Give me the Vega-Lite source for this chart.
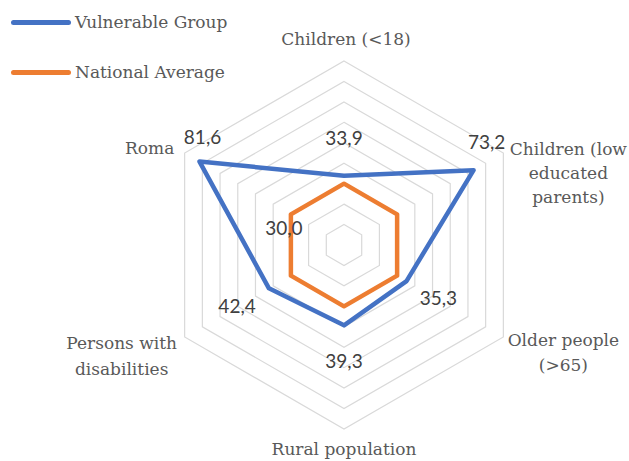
{
  "$schema": "https://vega.github.io/schema/vega-lite/v6.json",
  "width": 629,
  "height": 461,
  "autosize": "none",
  "padding": 0,
  "background": "white",
  "config": {
    "view": {"stroke": null},
    "locale": {"number": {"decimal": ",", "thousands": ".", "grouping": [3], "currency": ["", " €"]}}
  },
  "datasets": {
    "scores": [
      {"category": "Children (<18)", "k": 0, "series": "Vulnerable Group", "value": 33.9},
      {"category": "Children (low educated parents)", "k": 1, "series": "Vulnerable Group", "value": 73.2},
      {"category": "Older people (>65)", "k": 2, "series": "Vulnerable Group", "value": 35.3},
      {"category": "Rural population", "k": 3, "series": "Vulnerable Group", "value": 39.3},
      {"category": "Persons with disabilities", "k": 4, "series": "Vulnerable Group", "value": 42.4},
      {"category": "Roma", "k": 5, "series": "Vulnerable Group", "value": 81.6},
      {"category": "Children (<18)", "k": 0, "series": "National Average", "value": 30.0},
      {"category": "Children (low educated parents)", "k": 1, "series": "National Average", "value": 30.0},
      {"category": "Older people (>65)", "k": 2, "series": "National Average", "value": 30.0},
      {"category": "Rural population", "k": 3, "series": "National Average", "value": 30.0},
      {"category": "Persons with disabilities", "k": 4, "series": "National Average", "value": 30.0},
      {"category": "Roma", "k": 5, "series": "National Average", "value": 30.0}
    ],
    "axes": [
      {"k": 0, "label": "Children (<18)"},
      {"k": 1, "label": "Children (low\neducated\nparents)"},
      {"k": 2, "label": "Older people\n(>65)"},
      {"k": 3, "label": "Rural population"},
      {"k": 4, "label": "Persons with\ndisabilities"},
      {"k": 5, "label": "Roma"}
    ],
    "levels": [
      {"level": 10, "k": [0, 1, 2, 3, 4, 5]},
      {"level": 20, "k": [0, 1, 2, 3, 4, 5]},
      {"level": 30, "k": [0, 1, 2, 3, 4, 5]},
      {"level": 40, "k": [0, 1, 2, 3, 4, 5]},
      {"level": 50, "k": [0, 1, 2, 3, 4, 5]},
      {"level": 60, "k": [0, 1, 2, 3, 4, 5]},
      {"level": 70, "k": [0, 1, 2, 3, 4, 5]},
      {"level": 80, "k": [0, 1, 2, 3, 4, 5]},
      {"level": 90, "k": [0, 1, 2, 3, 4, 5]}
    ]
  },
  "encoding": {
    "x": {"field": "px", "type": "quantitative", "axis": null, "scale": {"domain": [-168.26, 139.40], "nice": false, "zero": false}},
    "y": {"field": "py", "type": "quantitative", "axis": null, "scale": {"domain": [-105.65, 119.84], "nice": false, "zero": false}}
  },
  "layer": [
    {
      "data": {"name": "levels"},
      "transform": [
        {"flatten": ["k"]},
        {"calculate": "datum.level * sin(datum.k * PI / 3)", "as": "px"},
        {"calculate": "datum.level * cos(datum.k * PI / 3)", "as": "py"}
      ],
      "mark": {"type": "line", "interpolate": "linear-closed", "stroke": "#D9D9D9", "strokeWidth": 1.2},
      "encoding": {"detail": {"field": "level", "type": "nominal"}, "order": {"field": "k", "type": "quantitative"}}
    },
    {
      "data": {"name": "scores"},
      "transform": [
        {"calculate": "datum.value * sin(datum.k * PI / 3)", "as": "px"},
        {"calculate": "datum.value * cos(datum.k * PI / 3)", "as": "py"}
      ],
      "mark": {"type": "line", "interpolate": "linear-closed", "strokeWidth": 4.5, "strokeJoin": "round"},
      "encoding": {
        "order": {"field": "k", "type": "quantitative"},
        "color": {
          "field": "series", "type": "nominal",
          "scale": {"domain": ["Vulnerable Group", "National Average"], "range": ["#4472C4", "#ED7D31"]},
          "legend": {
            "title": null, "orient": "none", "legendX": 11, "legendY": -7.5,
            "symbolType": "stroke", "symbolSize": 3025, "symbolStrokeWidth": 5,
            "labelFont": "DejaVu Serif", "labelFontSize": 17, "labelColor": "#595959",
            "labelOffset": 4, "rowPadding": 10, "padding": 0,
            "encode": {"symbols": {"update": {"strokeCap": {"value": "round"}}}}
          }
        }
      }
    },
    {
      "data": {"name": "scores"},
      "transform": [
        {"filter": "datum.series == 'Vulnerable Group' && (datum.k == 0 || datum.k == 2 || datum.k == 3 || datum.k == 4)"},
        {"calculate": "(datum.value + 18) * sin(datum.k * PI / 3)", "as": "px"},
        {"calculate": "(datum.value + 18) * cos(datum.k * PI / 3)", "as": "py"}
      ],
      "mark": {"type": "text", "font": "Lato", "fontSize": 19, "fill": "#404040", "baseline": "middle", "align": "center"},
      "encoding": {"text": {"field": "value", "type": "quantitative", "format": ".1f"}}
    },
    {
      "data": {"name": "scores"},
      "transform": [
        {"filter": "datum.series == 'Vulnerable Group' && datum.k == 1"},
        {"calculate": "datum.value * sin(datum.k * PI / 3)", "as": "px"},
        {"calculate": "datum.value * cos(datum.k * PI / 3)", "as": "py"}
      ],
      "mark": {"type": "text", "font": "Lato", "fontSize": 19, "fill": "#404040", "baseline": "middle", "align": "center", "dx": 13, "dy": -27},
      "encoding": {"text": {"field": "value", "type": "quantitative", "format": ".1f"}}
    },
    {
      "data": {"name": "scores"},
      "transform": [
        {"filter": "datum.series == 'Vulnerable Group' && datum.k == 5"},
        {"calculate": "datum.value * sin(datum.k * PI / 3)", "as": "px"},
        {"calculate": "datum.value * cos(datum.k * PI / 3)", "as": "py"}
      ],
      "mark": {"type": "text", "font": "Lato", "fontSize": 19, "fill": "#404040", "baseline": "middle", "align": "center", "dx": 3, "dy": -24},
      "encoding": {"text": {"field": "value", "type": "quantitative", "format": ".1f"}}
    },
    {
      "data": {"name": "scores"},
      "transform": [
        {"filter": "datum.series == 'National Average' && datum.k == 5"},
        {"calculate": "datum.value * sin(datum.k * PI / 3)", "as": "px"},
        {"calculate": "datum.value * cos(datum.k * PI / 3)", "as": "py"}
      ],
      "mark": {"type": "text", "font": "Lato", "fontSize": 19, "fill": "#404040", "baseline": "middle", "align": "center", "dx": -7, "dy": 15},
      "encoding": {"text": {"field": "value", "type": "quantitative", "format": ".1f"}}
    },
    {
      "data": {"name": "axes"},
      "transform": [
        {"filter": "datum.k == 0"},
        {"calculate": "90 * sin(datum.k * PI / 3)", "as": "px"},
        {"calculate": "90 * cos(datum.k * PI / 3)", "as": "py"}
      ],
      "mark": {"type": "text", "font": "DejaVu Serif", "fontSize": 17, "fill": "#595959", "baseline": "middle", "align": "center", "lineBreak": "\n", "lineHeight": 25, "dx": 2, "dy": -21},
      "encoding": {"text": {"field": "label", "type": "nominal"}}
    },
    {
      "data": {"name": "axes"},
      "transform": [
        {"filter": "datum.k == 1"},
        {"calculate": "90 * sin(datum.k * PI / 3)", "as": "px"},
        {"calculate": "90 * cos(datum.k * PI / 3)", "as": "py"}
      ],
      "mark": {"type": "text", "font": "DejaVu Serif", "fontSize": 17, "fill": "#595959", "baseline": "middle", "align": "center", "lineBreak": "\n", "lineHeight": 24, "dx": 65, "dy": -3},
      "encoding": {"text": {"field": "label", "type": "nominal"}}
    },
    {
      "data": {"name": "axes"},
      "transform": [
        {"filter": "datum.k == 2"},
        {"calculate": "90 * sin(datum.k * PI / 3)", "as": "px"},
        {"calculate": "90 * cos(datum.k * PI / 3)", "as": "py"}
      ],
      "mark": {"type": "text", "font": "DejaVu Serif", "fontSize": 17, "fill": "#595959", "baseline": "middle", "align": "center", "lineBreak": "\n", "lineHeight": 25, "dx": 60, "dy": 4},
      "encoding": {"text": {"field": "label", "type": "nominal"}}
    },
    {
      "data": {"name": "axes"},
      "transform": [
        {"filter": "datum.k == 3"},
        {"calculate": "90 * sin(datum.k * PI / 3)", "as": "px"},
        {"calculate": "90 * cos(datum.k * PI / 3)", "as": "py"}
      ],
      "mark": {"type": "text", "font": "DejaVu Serif", "fontSize": 17, "fill": "#595959", "baseline": "middle", "align": "center", "lineBreak": "\n", "lineHeight": 25, "dx": 0, "dy": 21},
      "encoding": {"text": {"field": "label", "type": "nominal"}}
    },
    {
      "data": {"name": "axes"},
      "transform": [
        {"filter": "datum.k == 4"},
        {"calculate": "90 * sin(datum.k * PI / 3)", "as": "px"},
        {"calculate": "90 * cos(datum.k * PI / 3)", "as": "py"}
      ],
      "mark": {"type": "text", "font": "DejaVu Serif", "fontSize": 17, "fill": "#595959", "baseline": "middle", "align": "center", "lineBreak": "\n", "lineHeight": 26, "dx": -63, "dy": 7},
      "encoding": {"text": {"field": "label", "type": "nominal"}}
    },
    {
      "data": {"name": "axes"},
      "transform": [
        {"filter": "datum.k == 5"},
        {"calculate": "90 * sin(datum.k * PI / 3)", "as": "px"},
        {"calculate": "90 * cos(datum.k * PI / 3)", "as": "py"}
      ],
      "mark": {"type": "text", "font": "DejaVu Serif", "fontSize": 17, "fill": "#595959", "baseline": "middle", "align": "center", "lineBreak": "\n", "lineHeight": 25, "dx": -35, "dy": -4},
      "encoding": {"text": {"field": "label", "type": "nominal"}}
    }
  ]
}
